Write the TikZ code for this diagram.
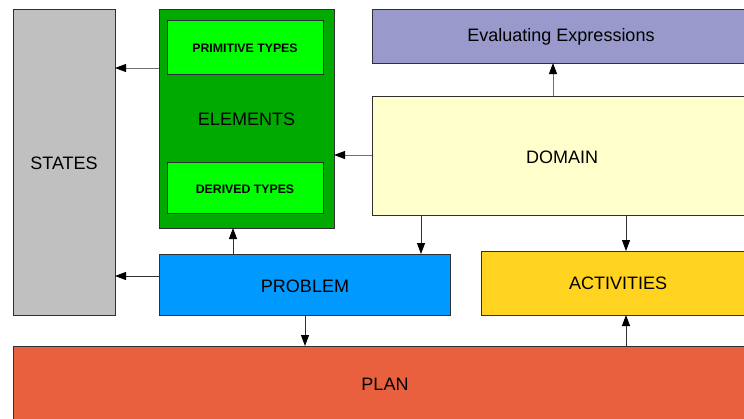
\documentclass[tikz,border=0pt]{standalone}
\usepackage{fontspec}
\setmainfont{Liberation Sans}
\usetikzlibrary{arrows.meta}
\definecolor{cStates}{HTML}{C0C0C0}
\definecolor{cElem}{HTML}{00AA00}
\definecolor{cType}{HTML}{00FF00}
\definecolor{cEval}{HTML}{9999CC}
\definecolor{cDomain}{HTML}{FFFFCC}
\definecolor{cProblem}{HTML}{0099FF}
\definecolor{cAct}{HTML}{FFD320}
\definecolor{cPlan}{HTML}{E9603F}
\definecolor{cLine}{HTML}{303030}
\definecolor{cLineLight}{HTML}{707070}
\tikzset{
  blk/.style={draw=cLine, line width=0.9pt, inner sep=0pt, outer sep=0pt,
    anchor=north west},
  lbl/.style={font=\fontsize{18}{20}\selectfont, text=black},
  typelbl/.style={font=\fontsize{12.3}{14}\selectfont\bfseries, text=black},
  conn/.style={draw=cLine, line width=0.9pt, -{Triangle[length=11pt,width=8pt,color=black]}},
  connlight/.style={conn, draw=cLineLight},
}
\begin{document}
\begin{tikzpicture}[x=1pt, y=-1pt]
\useasboundingbox (0,0) rectangle (744,418);
\clip (0,0) rectangle (744,418);
\fill[white] (0,0) rectangle (744,418);

% boxes and their labels
\node[blk, fill=cStates, minimum width=102pt, minimum height=306pt] (states) at (13,9) {};
\node[lbl] (statesL) at (64,163) {STATES};

\node[blk, fill=cElem, minimum width=175pt, minimum height=219pt] (elem) at (159,9) {};
\node[lbl] (elemL) at (246.5,119) {ELEMENTS};
\node[blk, fill=cType, minimum width=156pt, minimum height=54pt] (prim) at (167,20) {};
\node[typelbl] (primL) at (245,48) {PRIMITIVE TYPES};
\node[blk, fill=cType, minimum width=156pt, minimum height=51pt] (der) at (167,162) {};
\node[typelbl] (derL) at (245,189) {DERIVED TYPES};

\node[blk, fill=cEval, minimum width=380pt, minimum height=54pt] (eval) at (372,9) {};
\node[lbl] (evalL) at (561,37) {Evaluating Expressions};

\node[blk, fill=cDomain, minimum width=380pt, minimum height=119pt] (dom) at (372,96) {};
\node[lbl] (domL) at (562,157) {DOMAIN};

\node[blk, fill=cProblem, minimum width=291pt, minimum height=61pt] (prob) at (159,254) {};
\node[lbl] (probL) at (305,286) {PROBLEM};

\node[blk, fill=cAct, minimum width=275pt, minimum height=64pt] (act) at (481,251) {};
\node[lbl] (actL) at (618,283) {ACTIVITIES};

\node[blk, fill=cPlan, minimum width=744pt, minimum height=80pt] (plan) at (13,346) {};
\node[lbl] (planL) at (385,384) {PLAN};

% connectors
\draw[connlight] (elem.west |- 0,68) -- (states.east |- 0,68);
\draw[connlight] (dom.west |- 0,155) -- (elem.east |- 0,155);
\draw[connlight] (dom.north -| 553,0) -- (eval.south -| 553,0);
\draw[conn] (dom.south -| 421,0) -- (prob.north -| 421,0);
\draw[conn] (dom.south -| 626,0) -- (act.north -| 626,0);
\draw[conn] (prob.north -| 233,0) -- (elem.south -| 233,0);
\draw[conn] (prob.west |- 0,276) -- (states.east |- 0,276);
\draw[conn] (prob.south -| 305,0) -- (plan.north -| 305,0);
\draw[conn] (plan.north -| 626,0) -- (act.south -| 626,0);
\end{tikzpicture}
\end{document}
